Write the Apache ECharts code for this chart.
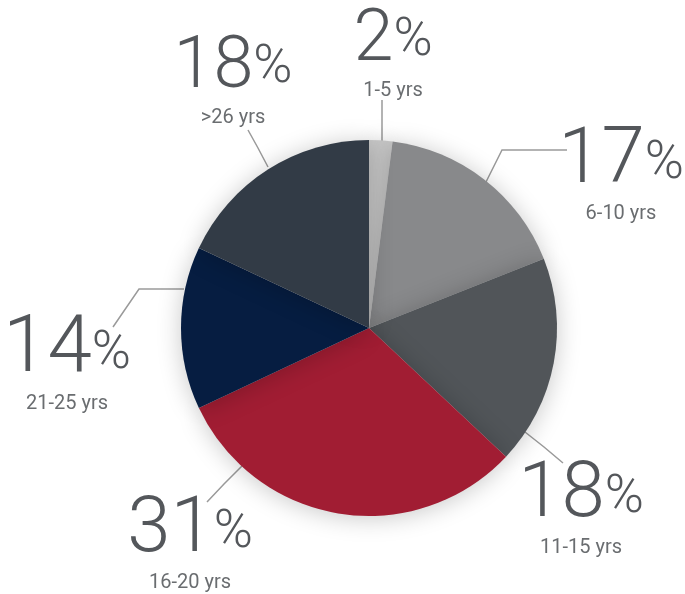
<!DOCTYPE html>
<html>
<head>
<meta charset="utf-8">
<script src="https://cdn.jsdelivr.net/npm/echarts@6/dist/echarts.min.js"></script>
<style>
  html, body { margin: 0; padding: 0; background: #fff; }
  #chart { width: 685px; height: 594px; }
</style>
</head>
<body>
<div id="chart"></div>
<script>
// years of experience buckets
const categories = ['1-5 yrs', '6-10 yrs', '11-15 yrs', '16-20 yrs', '21-25 yrs', '>26 yrs']
const shares = [2, 17, 18, 31, 14, 18]
const colors = ['#c8c8c8', '#88898b', '#515559', '#a11d33', '#061d41', '#323b46']

// label block centers and leader lines
const labelSpots = [
  [393, 57],
  [621, 180],
  [581, 514],
  [190, 549],
  [67, 370],
  [233, 84]
]
const leaderLines = [
  [[382, 141], [382, 120], [382, 100]],
  [[486, 182], [502, 150], [567, 150]],
  [[525, 432], [544, 447], [563, 463]],
  [[242, 466], [224, 484], [207, 502]],
  [[184, 289], [139, 289], [113, 327]],
  [[268, 167], [258, 148], [248, 130]]
]
const numberSizes = [72, 78, 78, 78, 80, 72]

const chart = echarts.init(document.getElementById('chart'))

const bigText = {
  fontFamily: 'Roboto',
  fontWeight: 300,
  color: '#54575b',
  lineHeight: 68,
  verticalAlign: 'bottom'
}

chart.setOption({
  animation: false,
  series: [
    {
      type: 'pie',
      center: [369, 328],
      radius: [0, 188],
      startAngle: 90,
      clockwise: true,
      data: categories.map((name, i) => ({
        name: name,
        value: shares[i],
        itemStyle: { color: colors[i] },
        label: {
          rich: {
            a: Object.assign({}, bigText, { fontSize: numberSizes[i] })
          }
        }
      })),
      itemStyle: {
        shadowBlur: 24,
        shadowColor: 'rgba(0,0,0,0.22)',
        shadowOffsetX: 0,
        shadowOffsetY: 2
      },
      emphasis: { disabled: true },
      label: {
        show: true,
        position: 'outside',
        overflow: 'none',
        formatter: p => '{a|' + p.value + '}{b|%}\n{c|' + p.name + '}',
        align: 'center',
        rich: {
          a: Object.assign({}, bigText, { fontSize: 78 }),
          b: {
            fontFamily: 'Roboto',
            fontWeight: 300,
            fontSize: 53,
            lineHeight: 50,
            color: '#54575b',
            verticalAlign: 'bottom',
            padding: [0, 0, 10, 0]
          },
          c: {
            fontFamily: 'Roboto',
            fontWeight: 400,
            fontSize: 20,
            lineHeight: 26,
            color: '#6a6d70',
            align: 'center'
          }
        }
      },
      labelLine: {
        show: true,
        length: 20,
        length2: 20,
        lineStyle: { color: '#9a9a9a', width: 1.5 }
      },
      labelLayout: params => {
        const i = params.dataIndex
        return {
          x: labelSpots[i][0],
          y: labelSpots[i][1],
          align: 'center',
          verticalAlign: 'middle',
          labelLinePoints: leaderLines[i]
        }
      }
    }
  ]
})
</script>
</body>
</html>
